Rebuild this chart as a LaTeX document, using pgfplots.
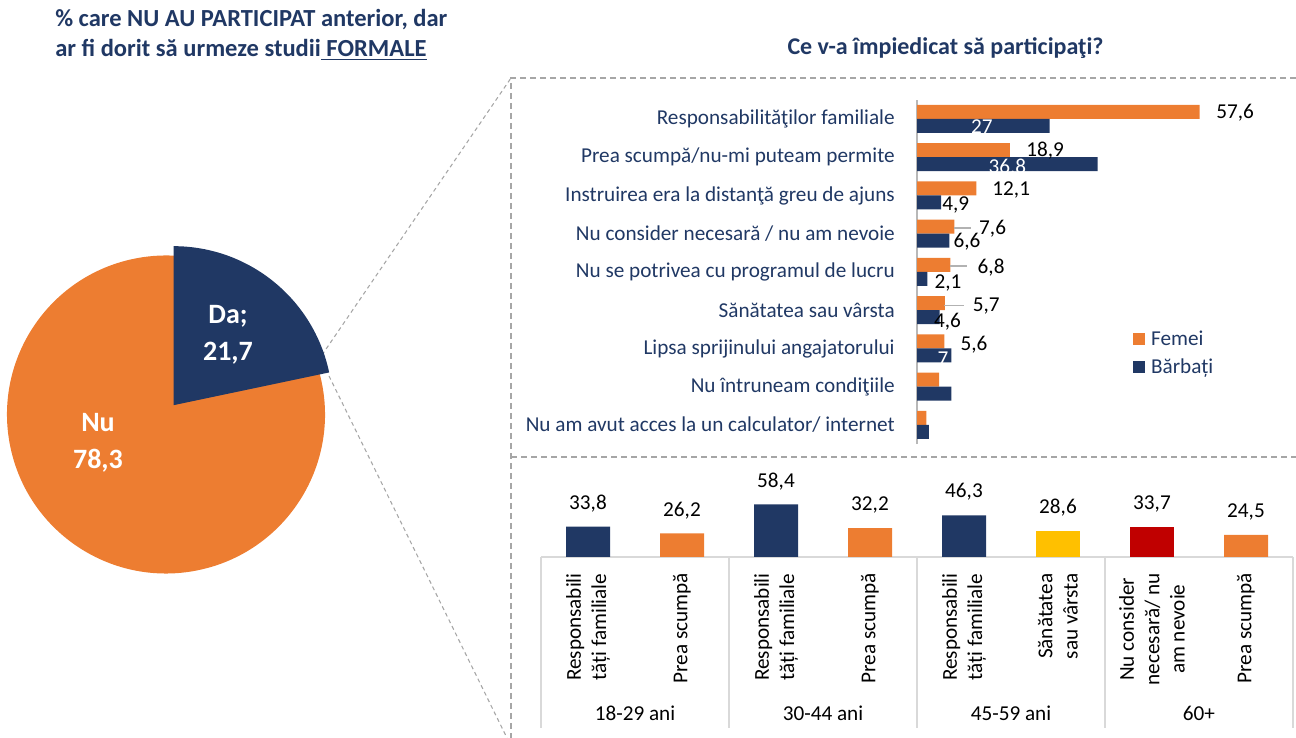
\documentclass[border=0pt]{standalone}
\usepackage{fontspec}
\setmainfont{Carlito}
\usepackage{pgfplots}
\pgfplotsset{compat=1.18}
\definecolor{navy}{HTML}{203864}
\definecolor{orng}{HTML}{ED7D31}
\definecolor{yel}{HTML}{FFC000}
\definecolor{rd}{HTML}{C00000}
\definecolor{dgray}{HTML}{A6A6A6}
\definecolor{lgray}{HTML}{D9D9D9}
\newcommand\lab{\fontsize{15.9}{19}\selectfont}
\begin{document}
\begin{tikzpicture}[x=0.75pt,y=0.75pt]
\useasboundingbox (0,0) rectangle (1296,738);
% titles
\node[anchor=base west, inner sep=0pt, text=navy, font=\bfseries\fontsize{18.4}{22}\selectfont] at (55,711) {\% care NU AU PARTICIPAT anterior, dar};
\node[anchor=base west, inner sep=0pt, text=navy, font=\bfseries\fontsize{18.4}{22}\selectfont] at (55,681) {ar fi dorit să urmeze studii\underline{ FORMALE}};
\node[anchor=base, inner sep=0pt, text=navy, font=\bfseries\fontsize{18}{22}\selectfont] at (945.5,683) {Ce v-a împiedicat să participaţi?};
% dashed frame
\draw[dgray, line width=1.5pt, dash pattern=on 4.5pt off 3pt] (1296,660) -- (511,660) -- (511,0);
\draw[dgray, line width=1.5pt, dash pattern=on 4.5pt off 3pt] (511,281) -- (1296,281);
\draw[dgray, line width=0.8pt, dash pattern=on 3pt off 2.5pt] (322,383) -- (511,660);
\draw[dgray, line width=0.8pt, dash pattern=on 3pt off 2.5pt] (329,362) -- (507,0);

% ---------- pie ----------
\def\da{21.7}
\def\nu{78.3}
\pgfmathsetmacro{\sw}{360*\da/(\da+\nu)}
\pgfmathsetmacro{\ea}{90-\sw}
\pgfmathsetmacro{\md}{90-\sw/2}
\pgfmathsetmacro{\ox}{12*cos(\md)}
\pgfmathsetmacro{\oy}{12*sin(\md)}
\pgfmathsetmacro{\oe}{\ea-360}
\begin{axis}[at={(124.5pt,242.625pt)}, anchor=center, x=0.75pt, y=0.75pt,
  xmin=-200, xmax=200, ymin=-200, ymax=200, hide axis, clip=false]
\addplot[draw=none] coordinates {(0,0)};
\fill[orng] (axis cs:0,0) -- ++(\ea:119.25pt) arc[start angle=\ea, end angle=\oe, radius=119.25pt] -- cycle;
\fill[navy] (axis cs:\ox,\oy) -- ++(90:119.25pt) arc[start angle=90, end angle=\ea, radius=119.25pt] -- cycle;
\node[text=white, align=center, font=\bfseries\fontsize{21}{27.75}\selectfont] at (axis cs:62,80) {Da;\\21,7};
\node[text=white, align=center, font=\bfseries\fontsize{21}{27.75}\selectfont] at (axis cs:-68,-28) {Nu\\78,3};
\end{axis}

% ---------- horizontal bars ----------
\begin{axis}[at={(687.75pt,220.425pt)}, anchor=south west, scale only axis,
  width=220.875pt, height=258.19pt, xbar, bar width=10.5pt,
  xmin=0, xmax=60, ymin=0.5, ymax=9.5, clip=false,
  hide x axis, axis y line*=left, y axis line style={-, draw=dgray!80, line width=1pt},
  ytick={1,...,9}, major tick length=0pt,
  yticklabels={Nu am avut acces la un calculator/ internet, Nu întruneam condiţiile~, Lipsa sprijinului angajatorului, Sănătatea sau vârsta, Nu se potrivea cu programul de lucru, Nu consider necesară / nu am nevoie, Instruirea era la distanţă greu de ajuns, Prea scumpă/nu-mi puteam permite, Responsabilităţilor familiale},
  yticklabel style={font=\lab, text=navy, anchor=east, inner sep=0pt, xshift=-16.5pt},
  legend style={at={(rel axis cs:0.733,0.335)}, anchor=north west, draw=none, fill=none,
    font=\lab, text=navy, inner sep=0pt, row sep=5.5pt, nodes={inner sep=1.5pt},
    /tikz/every odd column/.append style={column sep=3pt}},
  legend cell align=left]
\addplot[fill=orng, draw=none, bar shift=5.25pt,
  legend image code/.code={\fill[orng] (0pt,-4.5pt) rectangle (9pt,4.5pt);}]
  coordinates {(57.6,9) (18.9,8) (12.1,7) (7.6,6) (6.8,5) (5.7,4) (5.6,3) (4.5,2) (1.9,1)};
\addplot[fill=navy, draw=none, bar shift=-5.25pt,
  legend image code/.code={\fill[navy] (0pt,-4.5pt) rectangle (9pt,4.5pt);}]
  coordinates {(27,9) (36.8,8) (4.9,7) (6.6,6) (2.1,5) (4.6,4) (7,3) (7.0,2) (2.4,1)};
\legend{Femei, Bărbați}
\draw[gray!60, line width=1pt] (axis cs:7.5,6.15) -- (axis cs:10.9,6.15);
\draw[gray!60, line width=1pt] (axis cs:6.7,5.16) -- (axis cs:10.1,5.16);
\draw[gray!60, line width=1pt] (axis cs:5.6,4.12) -- (axis cs:9.6,4.12);
\begin{scope}[every node/.style={font=\lab, inner sep=0pt}]
\node at (axis cs:64.8,9.16) {57,6};
\node[text=white] at (axis cs:13.2,8.79) {27};
\node at (axis cs:26.1,8.17) {18,9};
\node[text=white] at (axis cs:18.4,7.75) {36.8};
\node at (axis cs:19.2,7.14) {12,1};
\node at (axis cs:7.9,6.74) {4,9};
\node at (axis cs:15.4,6.12) {7,6};
\node at (axis cs:10.2,5.78) {6,6};
\node at (axis cs:15.1,5.12) {6,8};
\node at (axis cs:6.3,4.71) {2,1};
\node at (axis cs:14.1,4.11) {5,7};
\node at (axis cs:6.2,3.71) {4,6};
\node at (axis cs:11.6,3.09) {5,6};
\node[text=white] at (axis cs:5.3,2.72) {7};
\end{scope}
\end{axis}

% ---------- vertical bars by age ----------
\begin{axis}[at={(405.75pt,135.75pt)}, anchor=south west, scale only axis,
  width=564pt, height=47.25pt, ybar, bar width=33pt,
  xmin=-0.5, xmax=7.5, ymin=0, ymax=70, clip=false,
  hide y axis, axis x line*=bottom, x axis line style={-, draw=lgray, line width=1pt},
  xtick={0,...,7}, major tick length=0pt,
  xticklabels={{Responsabili\\tăți familiale}, {Prea scumpă}, {Responsabili\\tăți familiale}, {Prea scumpă}, {Responsabili\\tăți familiale}, {Sănătatea\\sau vârsta}, {Nu consider\\necesară/ nu\\am nevoie}, {Prea scumpă}},
  xticklabel style={font=\lab, yshift=-12pt, rotate=90, anchor=east, align=center, inner sep=0pt},
  nodes near coords,
  every node near coord/.append style={font=\lab, text=black, anchor=base, yshift=13pt, inner sep=0pt},
  /pgf/number format/use comma, /pgf/number format/fixed, /pgf/number format/fixed zerofill,
  /pgf/number format/precision=1, /pgf/number format/assume math mode=true]
\addplot[fill=navy, draw=none, bar shift=0pt] coordinates {(0,33.8) (2,58.4) (4,46.3)};
\addplot[fill=orng, draw=none, bar shift=0pt] coordinates {(1,26.2) (3,32.2) (7,24.5)};
\addplot[fill=yel, draw=none, bar shift=0pt] coordinates {(5,28.6)};
\addplot[fill=rd, draw=none, bar shift=0pt] coordinates {(6,33.7)};
\foreach \g in {-0.5,1.5,3.5,5.5,7.5}{
  \edef\tmp{\noexpand\draw[lgray, line width=1pt] (axis cs:\g,0) -- (axis cs:\g,-190);}\tmp
}
\node[font=\lab, anchor=base] at (axis cs:0.5,-182.2) {18-29 ani};
\node[font=\lab, anchor=base] at (axis cs:2.5,-182.2) {30-44 ani};
\node[font=\lab, anchor=base] at (axis cs:4.5,-182.2) {45-59 ani};
\node[font=\lab, anchor=base] at (axis cs:6.5,-182.2) {60+};
\end{axis}
\end{tikzpicture}
\end{document}
